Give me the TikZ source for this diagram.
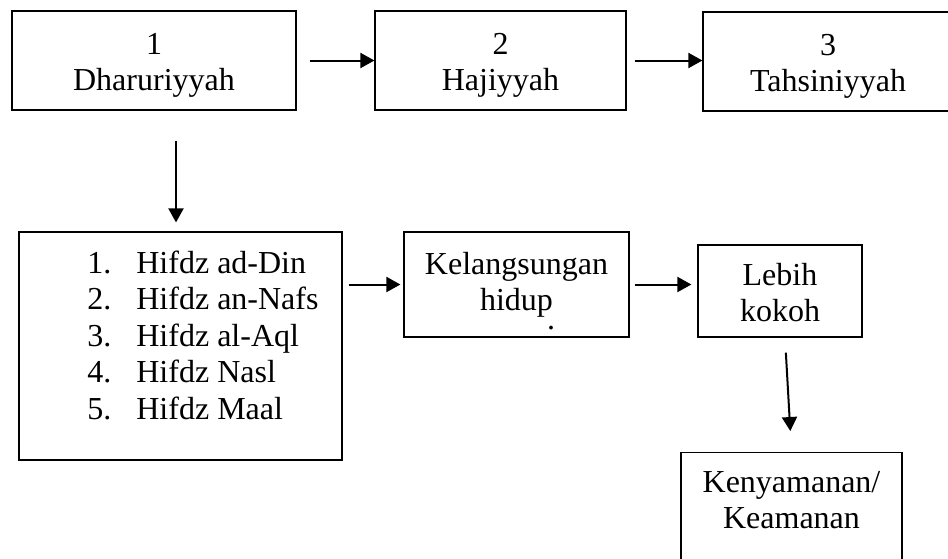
\documentclass[tikz,border=0pt]{standalone}
\usepackage{fontspec}
\setmainfont{Liberation Serif}
\usepackage{tikz}
\usetikzlibrary{arrows.meta}

\begin{document}
\begin{tikzpicture}[
    x=1pt, y=1pt,
    kotak/.style={rectangle, draw=black, line width=0.6pt, align=center, inner sep=0pt, font=\fontsize{16}{18}\selectfont},
    teks/.style={inner sep=0pt, font=\fontsize{16}{18}\selectfont},
    panah/.style={-{Triangle[length=7pt, width=7.5pt]}, line width=1pt, color=black}
]
\useasboundingbox (0,0) rectangle (474,-279);

\node[kotak, minimum width=142pt, minimum height=49.5pt] (d1) at (77,-30.25) {\rule{0pt}{15pt}1\\Dharuriyyah};
\node[kotak, minimum width=125.5pt, minimum height=49.5pt] (d2) at (250.25,-30.25) {\rule{0pt}{15pt}2\\Hajiyyah};
\node[kotak, minimum width=125pt, minimum height=49.5pt] (d3) at (414,-30.75) {\rule{0pt}{15pt}3\\Tahsiniyyah};

\node[kotak, minimum width=161.5pt, minimum height=114pt] (lima) at (90.25,-173) {};
\foreach \i/\nama in {1/ad-Din, 2/an-Nafs, 3/al-Aql, 4/Nasl, 5/Maal}
    \node[teks, anchor=base west] (hifdz\i) at (43.5,-118.5-18.2*\i) {\makebox[24.5pt][l]{\i.}Hifdz \nama};

\node[kotak, minimum width=112.5pt, minimum height=52.5pt] (kel) at (258.25,-142.25) {Kelangsungan\\hidup};
\node[teks] (titik) at (275.5,-164) {.};
\node[kotak, minimum width=82pt, minimum height=46pt] (lebih) at (390,-145.5) {\rule{0pt}{12.5pt}Lebih\\kokoh};
\node[kotak, minimum width=110.5pt, anchor=north, inner ysep=9.5pt, text depth=40pt] (ken) at (395.75,-226) {Kenyamanan/\\Keamanan};

\draw[panah, shorten <=6.5pt] (d1.east) -- (d2.west);
\draw[panah, shorten <=4pt] (d2.east) -- (d2.east -| d3.west);
\draw[panah, shorten <=15pt, shorten >=4.5pt] ([xshift=11pt]d1.south) -- ([xshift=11pt]d1.south |- lima.north);
\draw[panah, shorten <=3pt, shorten >=1.5pt] (lima.east |- kel.west) -- (kel.west);
\draw[panah, shorten <=2.5pt, shorten >=3pt] (kel.east) -- (kel.east -| lebih.west);
\draw[panah, shorten <=7.5pt, shorten >=10.5pt] ([xshift=2.5pt]lebih.south) -- (ken.north);
\end{tikzpicture}
\end{document}
